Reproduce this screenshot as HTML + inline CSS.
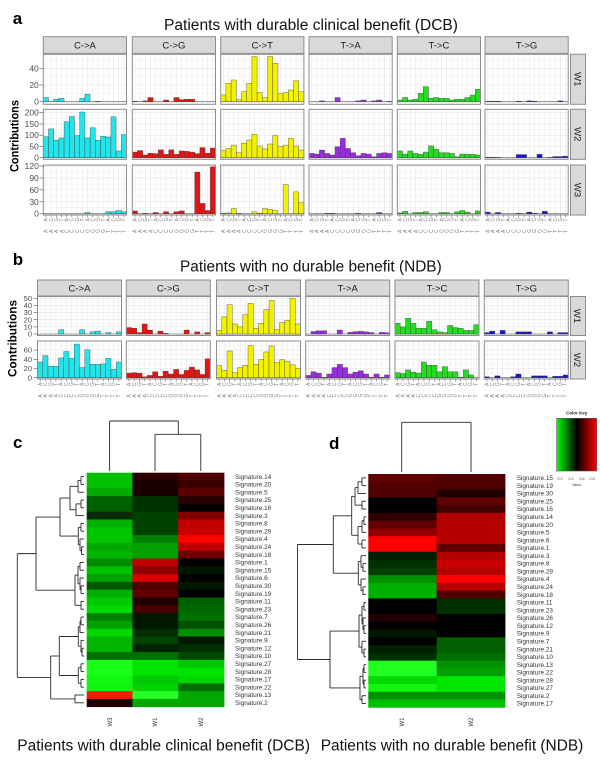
<!DOCTYPE html>
<html><head><meta charset="utf-8">
<style>
html,body{margin:0;padding:0;background:#fff;}
svg{display:block;font-family:"Liberation Sans",Arial,sans-serif;}
.xl text{font-size:5px;fill:#7a7a7a;}
.st{font-size:9.5px;fill:#1a1a1a;text-anchor:middle;}
.yt{font-size:8.5px;fill:#4d4d4d;text-anchor:end;}
.yb{font-size:7.5px;fill:#4d4d4d;text-anchor:end;}
.rl{font-size:6.4px;fill:#333;}
.cl{font-size:6px;fill:#333;text-anchor:middle;}
.tt{font-size:15.5px;fill:#111;}
.lt{font-size:17px;font-weight:bold;fill:#000;}
.yl{font-size:11.5px;font-weight:bold;fill:#000;text-anchor:middle;}
</style></head><body>
<svg id="s" width="600" height="765" viewBox="0 0 600 765" xmlns="http://www.w3.org/2000/svg">
<defs>
<linearGradient id="ck" x1="0" y1="0" x2="1" y2="0">
<stop offset="0" stop-color="#00ff00"/><stop offset="0.5" stop-color="#000000"/><stop offset="1" stop-color="#ff0000"/>
</linearGradient>
</defs>
<rect x="0" y="0" width="600" height="765" fill="#fff"/>
<g id="g"></g>

<!-- panel letters -->
<text class="lt" x="12.7" y="24">a</text>
<text class="lt" x="12.7" y="265">b</text>
<text class="lt" x="13" y="448">c</text>
<text class="lt" x="329" y="449">d</text>

<!-- titles -->
<text class="tt" x="164" y="30" textLength="294" lengthAdjust="spacingAndGlyphs">Patients with durable clinical benefit (DCB)</text>
<text class="tt" x="180" y="271.7" textLength="261.7" lengthAdjust="spacingAndGlyphs">Patients with no durable benefit (NDB)</text>
<text class="tt" x="17.3" y="750.5" textLength="292.7" lengthAdjust="spacingAndGlyphs">Patients with durable clinical benefit (DCB)</text>
<text class="tt" x="320.7" y="750.5" textLength="262.6" lengthAdjust="spacingAndGlyphs">Patients with no durable benefit (NDB)</text>

<!-- y labels -->
<text class="yl" transform="translate(18.3,136) rotate(-90)" textLength="72" lengthAdjust="spacingAndGlyphs">Contributions</text>
<text class="yl" transform="translate(16.7,338.5) rotate(-90)" textLength="77" lengthAdjust="spacingAndGlyphs">Contributions</text>

<!-- strip labels a -->
<text class="st" x="84.9" y="48.3">C-&gt;A</text>
<text class="st" x="173.9" y="48.3">C-&gt;G</text>
<text class="st" x="262.3" y="48.3">C-&gt;T</text>
<text class="st" x="350.6" y="48.3">T-&gt;A</text>
<text class="st" x="438.9" y="48.3">T-&gt;C</text>
<text class="st" x="526.6" y="48.3">T-&gt;G</text>
<text class="st" transform="translate(578,79.3) rotate(90)" dy="3.3">W1</text>
<text class="st" transform="translate(578,134.3) rotate(90)" dy="3.3">W2</text>
<text class="st" transform="translate(578,190) rotate(90)" dy="3.3">W3</text>
<!-- strip labels b -->
<text class="st" x="79.5" y="291.3">C-&gt;A</text>
<text class="st" x="168.3" y="291.3">C-&gt;G</text>
<text class="st" x="258.5" y="291.3">C-&gt;T</text>
<text class="st" x="347.7" y="291.3">T-&gt;A</text>
<text class="st" x="437" y="291.3">T-&gt;C</text>
<text class="st" x="526.3" y="291.3">T-&gt;G</text>
<text class="st" transform="translate(577.5,316) rotate(90)" dy="3.3">W1</text>
<text class="st" transform="translate(577.5,360) rotate(90)" dy="3.3">W2</text>

<!-- y tick labels a -->
<text class="yt" x="38.8" y="104.7">0</text>
<text class="yt" x="38.8" y="88">20</text>
<text class="yt" x="38.8" y="71.3">40</text>
<text class="yt" x="38.8" y="160.7">0</text>
<text class="yt" x="38.8" y="149.4">50</text>
<text class="yt" x="38.8" y="138.2">100</text>
<text class="yt" x="38.8" y="126.9">150</text>
<text class="yt" x="38.8" y="115.7">200</text>
<text class="yt" x="38.8" y="216.7">0</text>
<text class="yt" x="38.8" y="204.8">30</text>
<text class="yt" x="38.8" y="192.9">60</text>
<text class="yt" x="38.8" y="181">90</text>
<text class="yt" x="38.8" y="169.1">120</text>
<!-- y tick labels b -->
<text class="yb" x="32" y="336.6">0</text>
<text class="yb" x="32" y="329.5">10</text>
<text class="yb" x="32" y="322.3">20</text>
<text class="yb" x="32" y="315.2">30</text>
<text class="yb" x="32" y="308">40</text>
<text class="yb" x="32" y="300.9">50</text>
<text class="yb" x="32" y="380.3">0</text>
<text class="yb" x="32" y="371.1">20</text>
<text class="yb" x="32" y="361.9">40</text>
<text class="yb" x="32" y="352.7">60</text>

<!-- x tick labels a -->
<g class="xl">
<g transform="translate(43.3,0)"><text x="4.4 9.6 14.8 20 25.2 30.4 35.6 40.8 46 51.2 56.4 61.6 66.8 72 77.2 82.4" y="221.5" rotate="-90">ACGTACGTACGTACGT</text><text x="2.6 7.8 13 18.2 23.4 28.6 33.8 39 44.2 49.4 54.6 59.8 65 70.2 75.4 80.6" y="226.5" rotate="-90">................</text><text x="4.4 9.6 14.8 20 25.2 30.4 35.6 40.8 46 51.2 56.4 61.6 66.8 72 77.2 82.4" y="233" rotate="-90">AAAACCCCGGGGTTTT</text></g>
<g transform="translate(132.3,0)"><text x="4.4 9.6 14.8 20 25.2 30.4 35.6 40.8 46 51.2 56.4 61.6 66.8 72 77.2 82.4" y="221.5" rotate="-90">ACGTACGTACGTACGT</text><text x="2.6 7.8 13 18.2 23.4 28.6 33.8 39 44.2 49.4 54.6 59.8 65 70.2 75.4 80.6" y="226.5" rotate="-90">................</text><text x="4.4 9.6 14.8 20 25.2 30.4 35.6 40.8 46 51.2 56.4 61.6 66.8 72 77.2 82.4" y="233" rotate="-90">AAAACCCCGGGGTTTT</text></g>
<g transform="translate(220.7,0)"><text x="4.4 9.6 14.8 20 25.2 30.4 35.6 40.8 46 51.2 56.4 61.6 66.8 72 77.2 82.4" y="221.5" rotate="-90">ACGTACGTACGTACGT</text><text x="2.6 7.8 13 18.2 23.4 28.6 33.8 39 44.2 49.4 54.6 59.8 65 70.2 75.4 80.6" y="226.5" rotate="-90">................</text><text x="4.4 9.6 14.8 20 25.2 30.4 35.6 40.8 46 51.2 56.4 61.6 66.8 72 77.2 82.4" y="233" rotate="-90">AAAACCCCGGGGTTTT</text></g>
<g transform="translate(309,0)"><text x="4.4 9.6 14.8 20 25.2 30.4 35.6 40.8 46 51.2 56.4 61.6 66.8 72 77.2 82.4" y="221.5" rotate="-90">ACGTACGTACGTACGT</text><text x="2.6 7.8 13 18.2 23.4 28.6 33.8 39 44.2 49.4 54.6 59.8 65 70.2 75.4 80.6" y="226.5" rotate="-90">................</text><text x="4.4 9.6 14.8 20 25.2 30.4 35.6 40.8 46 51.2 56.4 61.6 66.8 72 77.2 82.4" y="233" rotate="-90">AAAACCCCGGGGTTTT</text></g>
<g transform="translate(397.3,0)"><text x="4.4 9.6 14.8 20 25.2 30.4 35.6 40.8 46 51.2 56.4 61.6 66.8 72 77.2 82.4" y="221.5" rotate="-90">ACGTACGTACGTACGT</text><text x="2.6 7.8 13 18.2 23.4 28.6 33.8 39 44.2 49.4 54.6 59.8 65 70.2 75.4 80.6" y="226.5" rotate="-90">................</text><text x="4.4 9.6 14.8 20 25.2 30.4 35.6 40.8 46 51.2 56.4 61.6 66.8 72 77.2 82.4" y="233" rotate="-90">AAAACCCCGGGGTTTT</text></g>
<g transform="translate(485,0)"><text x="4.4 9.6 14.8 20 25.2 30.4 35.6 40.8 46 51.2 56.4 61.6 66.8 72 77.2 82.4" y="221.5" rotate="-90">ACGTACGTACGTACGT</text><text x="2.6 7.8 13 18.2 23.4 28.6 33.8 39 44.2 49.4 54.6 59.8 65 70.2 75.4 80.6" y="226.5" rotate="-90">................</text><text x="4.4 9.6 14.8 20 25.2 30.4 35.6 40.8 46 51.2 56.4 61.6 66.8 72 77.2 82.4" y="233" rotate="-90">AAAACCCCGGGGTTTT</text></g>
<!-- x tick labels b -->
<g transform="translate(37.5,0)"><text x="4.4 9.6 14.8 20 25.2 30.4 35.6 40.8 46 51.2 56.4 61.6 66.8 72 77.2 82.4" y="386" rotate="-90">ACGTACGTACGTACGT</text><text x="2.6 7.8 13 18.2 23.4 28.6 33.8 39 44.2 49.4 54.6 59.8 65 70.2 75.4 80.6" y="391" rotate="-90">................</text><text x="4.4 9.6 14.8 20 25.2 30.4 35.6 40.8 46 51.2 56.4 61.6 66.8 72 77.2 82.4" y="397.5" rotate="-90">AAAACCCCGGGGTTTT</text></g>
<g transform="translate(126.3,0)"><text x="4.4 9.6 14.8 20 25.2 30.4 35.6 40.8 46 51.2 56.4 61.6 66.8 72 77.2 82.4" y="386" rotate="-90">ACGTACGTACGTACGT</text><text x="2.6 7.8 13 18.2 23.4 28.6 33.8 39 44.2 49.4 54.6 59.8 65 70.2 75.4 80.6" y="391" rotate="-90">................</text><text x="4.4 9.6 14.8 20 25.2 30.4 35.6 40.8 46 51.2 56.4 61.6 66.8 72 77.2 82.4" y="397.5" rotate="-90">AAAACCCCGGGGTTTT</text></g>
<g transform="translate(216.5,0)"><text x="4.4 9.6 14.8 20 25.2 30.4 35.6 40.8 46 51.2 56.4 61.6 66.8 72 77.2 82.4" y="386" rotate="-90">ACGTACGTACGTACGT</text><text x="2.6 7.8 13 18.2 23.4 28.6 33.8 39 44.2 49.4 54.6 59.8 65 70.2 75.4 80.6" y="391" rotate="-90">................</text><text x="4.4 9.6 14.8 20 25.2 30.4 35.6 40.8 46 51.2 56.4 61.6 66.8 72 77.2 82.4" y="397.5" rotate="-90">AAAACCCCGGGGTTTT</text></g>
<g transform="translate(305.7,0)"><text x="4.4 9.6 14.8 20 25.2 30.4 35.6 40.8 46 51.2 56.4 61.6 66.8 72 77.2 82.4" y="386" rotate="-90">ACGTACGTACGTACGT</text><text x="2.6 7.8 13 18.2 23.4 28.6 33.8 39 44.2 49.4 54.6 59.8 65 70.2 75.4 80.6" y="391" rotate="-90">................</text><text x="4.4 9.6 14.8 20 25.2 30.4 35.6 40.8 46 51.2 56.4 61.6 66.8 72 77.2 82.4" y="397.5" rotate="-90">AAAACCCCGGGGTTTT</text></g>
<g transform="translate(395,0)"><text x="4.4 9.6 14.8 20 25.2 30.4 35.6 40.8 46 51.2 56.4 61.6 66.8 72 77.2 82.4" y="386" rotate="-90">ACGTACGTACGTACGT</text><text x="2.6 7.8 13 18.2 23.4 28.6 33.8 39 44.2 49.4 54.6 59.8 65 70.2 75.4 80.6" y="391" rotate="-90">................</text><text x="4.4 9.6 14.8 20 25.2 30.4 35.6 40.8 46 51.2 56.4 61.6 66.8 72 77.2 82.4" y="397.5" rotate="-90">AAAACCCCGGGGTTTT</text></g>
<g transform="translate(484.3,0)"><text x="4.4 9.6 14.8 20 25.2 30.4 35.6 40.8 46 51.2 56.4 61.6 66.8 72 77.2 82.4" y="386" rotate="-90">ACGTACGTACGTACGT</text><text x="2.6 7.8 13 18.2 23.4 28.6 33.8 39 44.2 49.4 54.6 59.8 65 70.2 75.4 80.6" y="391" rotate="-90">................</text><text x="4.4 9.6 14.8 20 25.2 30.4 35.6 40.8 46 51.2 56.4 61.6 66.8 72 77.2 82.4" y="397.5" rotate="-90">AAAACCCCGGGGTTTT</text></g>
</g>

<!-- heatmap c labels -->
<text class="rl" x="235" y="478.8">Signature.14</text>
<text class="rl" x="235" y="486.6">Signature.20</text>
<text class="rl" x="235" y="494.4">Signature.5</text>
<text class="rl" x="235" y="502.2">Signature.25</text>
<text class="rl" x="235" y="510.0">Signature.16</text>
<text class="rl" x="235" y="517.8">Signature.3</text>
<text class="rl" x="235" y="525.6">Signature.8</text>
<text class="rl" x="235" y="533.4">Signature.29</text>
<text class="rl" x="235" y="541.2">Signature.4</text>
<text class="rl" x="235" y="549.0">Signature.24</text>
<text class="rl" x="235" y="556.8">Signature.18</text>
<text class="rl" x="235" y="564.6">Signature.1</text>
<text class="rl" x="235" y="572.4">Signature.15</text>
<text class="rl" x="235" y="580.2">Signature.6</text>
<text class="rl" x="235" y="588.0">Signature.30</text>
<text class="rl" x="235" y="595.8">Signature.19</text>
<text class="rl" x="235" y="603.6">Signature.11</text>
<text class="rl" x="235" y="611.4">Signature.23</text>
<text class="rl" x="235" y="619.2">Signature.7</text>
<text class="rl" x="235" y="627.0">Signature.26</text>
<text class="rl" x="235" y="634.8">Signature.21</text>
<text class="rl" x="235" y="642.6">Signature.9</text>
<text class="rl" x="235" y="650.4">Signature.12</text>
<text class="rl" x="235" y="658.2">Signature.10</text>
<text class="rl" x="235" y="666.0">Signature.27</text>
<text class="rl" x="235" y="673.8">Signature.28</text>
<text class="rl" x="235" y="681.6">Signature.17</text>
<text class="rl" x="235" y="689.4">Signature.22</text>
<text class="rl" x="235" y="697.2">Signature.13</text>
<text class="rl" x="235" y="705.0">Signature.2</text>
<text class="cl" transform="translate(111.8,722) rotate(-90)">W3</text>
<text class="cl" transform="translate(157.2,722) rotate(-90)">W1</text>
<text class="cl" transform="translate(203,722) rotate(-90)">W2</text>

<!-- heatmap d labels -->
<text class="rl" x="516.7" y="480.1">Signature.15</text>
<text class="rl" x="516.7" y="487.9">Signature.19</text>
<text class="rl" x="516.7" y="495.7">Signature.30</text>
<text class="rl" x="516.7" y="503.4">Signature.25</text>
<text class="rl" x="516.7" y="511.2">Signature.16</text>
<text class="rl" x="516.7" y="519.0">Signature.14</text>
<text class="rl" x="516.7" y="526.8">Signature.20</text>
<text class="rl" x="516.7" y="534.6">Signature.5</text>
<text class="rl" x="516.7" y="542.3">Signature.6</text>
<text class="rl" x="516.7" y="550.1">Signature.1</text>
<text class="rl" x="516.7" y="557.9">Signature.3</text>
<text class="rl" x="516.7" y="565.7">Signature.8</text>
<text class="rl" x="516.7" y="573.5">Signature.29</text>
<text class="rl" x="516.7" y="581.2">Signature.4</text>
<text class="rl" x="516.7" y="589.0">Signature.24</text>
<text class="rl" x="516.7" y="596.8">Signature.18</text>
<text class="rl" x="516.7" y="604.6">Signature.11</text>
<text class="rl" x="516.7" y="612.4">Signature.23</text>
<text class="rl" x="516.7" y="620.1">Signature.26</text>
<text class="rl" x="516.7" y="627.9">Signature.12</text>
<text class="rl" x="516.7" y="635.7">Signature.9</text>
<text class="rl" x="516.7" y="643.5">Signature.7</text>
<text class="rl" x="516.7" y="651.3">Signature.21</text>
<text class="rl" x="516.7" y="659.0">Signature.10</text>
<text class="rl" x="516.7" y="666.8">Signature.13</text>
<text class="rl" x="516.7" y="674.6">Signature.22</text>
<text class="rl" x="516.7" y="682.4">Signature.28</text>
<text class="rl" x="516.7" y="690.2">Signature.27</text>
<text class="rl" x="516.7" y="697.9">Signature.2</text>
<text class="rl" x="516.7" y="705.7">Signature.17</text>
<text class="cl" transform="translate(403.9,722) rotate(-90)">W1</text>
<text class="cl" transform="translate(473.2,722) rotate(-90)">W2</text>

<!-- color key -->
<rect x="556.7" y="418.3" width="40" height="52.7" fill="url(#ck)" stroke="#555" stroke-width="0.6"/>
<text x="576.7" y="414.5" text-anchor="middle" font-size="4.5" font-weight="bold" fill="#222">Color Key</text>
<text x="560" y="480" text-anchor="middle" font-size="3.8" fill="#444">0.2</text>
<text x="571" y="480" text-anchor="middle" font-size="3.8" fill="#444">0.4</text>
<text x="582" y="480" text-anchor="middle" font-size="3.8" fill="#444">0.6</text>
<text x="592" y="480" text-anchor="middle" font-size="3.8" fill="#444">0.8</text>
<text x="576.7" y="486" text-anchor="middle" font-size="3.8" fill="#444">Value</text>
</svg>
<script>
(function(){
var NS="http://www.w3.org/2000/svg";
var G=document.getElementById('g');
function el(t,a){var e=document.createElementNS(NS,t);for(var k in a)e.setAttribute(k,a[k]);G.appendChild(e);return e;}
function line(x1,y1,x2,y2,c,w){el('line',{x1:x1,y1:y1,x2:x2,y2:y2,stroke:c,'stroke-width':w});}
var cols=['#22e5ec','#e01515','#f2f200','#9a2be0','#22dd22','#1515c8'];

function facets(lefts,w,strip,rows,data,rs){
  var bw=w/16;
  rows.forEach(function(r,ri){
    lefts.forEach(function(L,pi){
      el('rect',{x:L,y:r.t,width:w,height:r.b-r.t,fill:'#fff'});
      var step=r.br[1]-r.br[0];
      for(var v=-step/2;;v+=step/2){var y=r.y0-v*r.sc; if(y<r.t)break; if(y<=r.b) line(L,y,L+w,y,(Math.round(v/step*2)%2===0)?'#e4e4e4':'#f0f0f0',0.6);}
      for(var i=0;i<16;i++){var x=L+(i+0.5)*bw; line(x,r.t,x,r.b,'#e8e8e8',0.6);}
      line(L,r.y0,L+w,r.y0,'#7a7a7a',0.8);
      var d=data[ri][pi];
      d.forEach(function(v,i){ if(v>0){var h=v*r.sc; el('rect',{x:L+i*bw,y:r.y0-h,width:bw,height:h,fill:cols[pi],stroke:'#3c3c3c','stroke-width':0.5,'stroke-opacity':0.75});}});
      el('rect',{x:L,y:r.t,width:w,height:r.b-r.t,fill:'none',stroke:'#8c8c8c','stroke-width':1});
      if(ri===rows.length-1){for(var j=0;j<16;j++){var xx=L+(j+0.5)*bw; line(xx,r.b,xx,r.b+2.5,'#555',0.5);}}
    });
    r.br.forEach(function(v){var y=r.y0-v*r.sc; line(lefts[0]-3.8,y,lefts[0],y,'#555',0.6);});
    el('rect',{x:rs.x,y:r.t,width:rs.w,height:r.b-r.t,fill:'#d9d9d9',stroke:'#8c8c8c','stroke-width':1});
  });
  lefts.forEach(function(L){el('rect',{x:L,y:strip.y,width:w,height:strip.h,fill:'#d9d9d9',stroke:'#8c8c8c','stroke-width':1});});
}

var A=[
 [[5,0,3,4,0,0,0,4,9,0,0.5,0,0,0,0,0],
  [0.5,0,1,5,0,0,2,0,5,2.5,3,3,0,0,0,0],
  [8,22,26,2.5,12,22,54,11,5,54,46,10,11,14,25,12],
  [0,0,1,0,0,5,0,0,0,1,2,0,1,2,0,0.5],
  [2,5,2,3,10,18,4,5,4,4,2,3,3,5,8,15],
  [0.6,0.6,0.6,0,0,0,0.6,0,1,0.6,0,0,0,0,1,0]],
 [[93,128,78,88,160,183,98,203,88,133,78,95,92,182,30,103],
  [25,32,12,20,18,35,15,35,15,30,28,25,18,45,20,43],
  [31,41,56,22,64,79,104,52,39,61,98,49,56,86,52,34],
  [19,16,34,19,12,49,86,41,22,9,19,16,4,19,22,19],
  [30,16,30,19,15,25,53,37,22,22,19,4,16,16,15,12],
  [2,2,1,0,0,0,14,14,0,0,15,0,1,5,5,7]],
 [[0,0,0,0,0,0,0,0,3,0,0,0,5,5,8,5],
  [7,0,1,0,3,0,5,0,5,7,0,0,105,26,8,118],
  [1,2,13,1,0,0,5,1,13,11,8,0,73,0,55,28],
  [0,0,0,1,1,0,0,0,0,1,0,0,0,3,0,0],
  [2,6,0,3,3,5,0,0,3,3,0,5,8,4,0,7],
  [4,0,3,0,0,0,1,0,4,1,0,6,0,0,0,0]]
];
facets([43.3,132.3,220.7,309,397.3,485],83.2,{y:36.7,h:16.7},
 [{t:54.3,b:104.3,y0:101.7,sc:0.835,br:[0,20,40]},
  {t:109.3,b:159.3,y0:157.7,sc:0.225,br:[0,50,100,150,200]},
  {t:165,b:215,y0:213.7,sc:0.397,br:[0,30,60,90,120]}],A,{x:570.5,w:15});

var B=[
 [[0,0,0,0,6,0,0,0,6,0,3,4,0,2,0,3],
  [9,8,2,14,5.6,0,4,1,0,0,0,5.6,0,3,0,2],
  [5,24,41,14,10,27,43,8,15,34,47,6,16,19,50,14],
  [0,3.5,4.5,4.5,0,0,5.6,0,2.3,3.3,3.7,3,2,0,2.3,1.8],
  [15,10,22,15,8,8,18,6,3,2,12,9,8,5,5,13],
  [2,4,0,5,0,0,3,3,3,0,0,0,3,0,2,2]],
 [[34,48,25,25,43,57,42,73,22,61,29,29,30,42,18,34],
  [10,11,10,2,5,13,3,14,8,18,7,16,23,17,7,41],
  [26,16,58,11,22,27,70,29,39,56,69,33,39,36,28,20],
  [5,13,10,1,8,22,29,22,8,12,15,8,1,8,1,6],
  [11,9,17,12,10,34,27,27,13,24,13,13,1,17,6,0],
  [2,0,4,0,0,2,8,0,0,4,4,4,0,3,3,6]]
];
facets([37.5,126.3,216.5,305.7,395,484.3],84,{y:280,h:16},
 [{t:296.5,b:335.5,y0:334,sc:0.714,br:[0,10,20,30,40,50]},
  {t:341,b:379,y0:377.7,sc:0.46,br:[0,20,40,60]}],B,{x:570.5,w:15});

// heatmaps
var HC=[
['#00c000','#2a0000','#4a0000'],['#00c000','#1a0000','#3a0000'],['#00a800','#1a0000','#5a0000'],
['#006000','#003200','#2a0000'],['#006000','#003200','#000000'],['#0a2a0a','#004200','#800000'],
['#00b000','#004200','#c00000'],['#00c400','#004200','#c80000'],['#00c400','#008000','#ff0000'],
['#00a800','#00a000','#c00000'],['#00b400','#00a000','#700000'],['#008800','#c00000','#000000'],
['#00c000','#900000','#001800'],['#00a000','#d80000','#000000'],['#005800','#500000','#001800'],
['#00b000','#600000','#000000'],['#00c800','#200000','#006000'],['#00d800','#480000','#006800'],
['#008000','#001a00','#007000'],['#00a000','#001a00','#005000'],['#00d800','#002c00','#009000'],
['#00b400','#004400','#001a00'],['#00b400','#002400','#003000'],['#007000','#007000','#004800'],
['#18ff18','#00e400','#00c800'],['#18ff18','#00e400','#00e400'],['#10f810','#00c800','#00d800'],
['#10f410','#00d400','#007000'],['#ff1800','#28ff28','#00a800'],['#200000','#00a800','#00a800']];
var HD=[
['#600000','#500000'],['#500000','#500000'],['#500000','#200000'],['#000000','#600000'],['#000000','#400000'],
['#300000','#b40000'],['#600000','#b40000'],['#940000','#b40000'],['#ff0000','#b40000'],['#ff0000','#600000'],
['#002000','#b40000'],['#003000','#c80000'],['#004000','#b40000'],['#009000','#ff0000'],['#00b000','#b40000'],
['#00b000','#500000'],['#000000','#003000'],['#000000','#003000'],['#200000','#000000'],['#000000','#000000'],
['#001800','#000000'],['#000000','#006000'],['#002000','#006000'],['#003000','#007000'],['#20ff20','#009000'],
['#20ff20','#00a000'],['#00d800','#00e800'],['#10f810','#00e800'],['#009000','#009000'],['#00c000','#00c000']];
function heat(H,x0,x1,y0,y1){
  var nc=H[0].length, cw=(x1-x0)/nc, rh=(y1-y0)/H.length;
  H.forEach(function(row,i){row.forEach(function(c,j){
    el('rect',{x:(x0+j*cw).toFixed(2),y:(y0+i*rh).toFixed(2),width:(cw+0.4).toFixed(2),height:(rh+0.4).toFixed(2),fill:c});
  });});
}
heat(HC,86.7,224,472.7,706.7);
heat(HD,368.3,505,474,707.3);

// dendrograms
var DC='#2a2a2a',DW=0.9;
function drow(n,yf,lx){
  if(typeof n==='number') return [lx,yf(n)];
  var a=drow(n[1],yf,lx), b=drow(n[2],yf,lx), x=n[0];
  line(x,a[1],x,b[1],DC,DW); line(x,a[1],a[0],a[1],DC,DW); line(x,b[1],b[0],b[1],DC,DW);
  return [x,(a[1]+b[1])/2];
}
var cA1a=[70,[78,[81,0,1],2],[76,[81,3,4],5]];
var cA1b=[78.3,[81,6,7],[80,8,[81.5,9,10]]];
var cA2=[75,[78,[80,11,12],[80,13,[81,14,15]]],[81,16,17]];
var cB1=[59.3,[78.3,[80,[81,18,19],20],[81,21,[82,22,23]]],[78.3,[81,24,25],[81,26,27]]];
var cRoot=[17.3,[36,[60,cA1a,cA1b],cA2],[50.7,cB1,[75,28,29]]];
drow(cRoot,function(i){return 472.7+7.8*(i+0.5);},84);

var dT1=[351.7,[355,[358,[362,0,1],2],[362,3,4]],[358,[362,[364,5,6],7],[362,8,9]]];
var dT2=[358.3,[361,10,[363,11,12]],[361,13,[363,14,15]]];
var dB1=[359,[362,[364,16,17],[363,18,[364,19,20]]],[362,21,[364,22,23]]];
var dB2=[360,[363,[364,24,25],[364,26,27]],[362,28,29]];
var dRoot=[297.5,[333.3,dT1,dT2],[330,dB1,dB2]];
drow(dRoot,function(i){return 474+7.78*(i+0.5);},366);

// column dendrogram c
line(109.6,471,109.6,421,DC,DW); line(109.6,421,178.3,421,DC,DW); line(178.3,421,178.3,434.3,DC,DW);
line(155,434.3,200.8,434.3,DC,DW); line(155,434.3,155,471,DC,DW); line(200.8,434.3,200.8,471,DC,DW);
// column dendrogram d
line(401.7,472,401.7,422.3,DC,DW); line(401.7,422.3,471,422.3,DC,DW); line(471,422.3,471,472,DC,DW);
})();
</script>
</body></html>
